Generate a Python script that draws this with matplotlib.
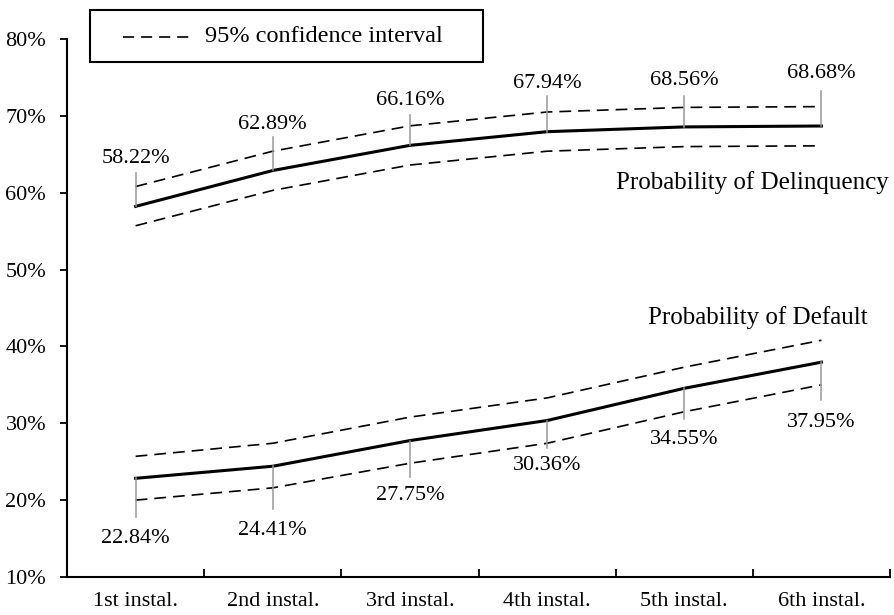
import matplotlib.pyplot as plt
import numpy as np

plt.rcParams['font.family'] = ['Liberation Serif', 'DejaVu Serif']
plt.rcParams['lines.scale_dashes'] = False

categories = ["1st instal.", "2nd instal.", "3rd instal.", "4th instal.", "5th instal.", "6th instal."]

delinq = [58.22, 62.89, 66.16, 67.94, 68.56, 68.68]
delinq_upper = [60.8, 65.4, 68.7, 70.5, 71.1, 71.2]
delinq_lower = [55.7, 60.3, 63.6, 65.4, 66.0, 66.1]

default = [22.84, 24.41, 27.75, 30.36, 34.55, 37.95]
default_upper = [25.7, 27.4, 30.8, 33.3, 37.3, 40.8]
default_lower = [20.0, 21.6, 24.8, 27.4, 31.5, 35.0]

# leader line length and label offset (in % units)
delinq_lab = [[4.3, 6.2], [4.4, 6.0], [4.0, 5.9], [4.6, 6.3], [4.0, 6.0], [4.6, 6.8]]
default_lab = [[5.0, 7.8], [5.6, 8.4], [4.7, 7.2], [3.6, 5.9], [4.0, 6.6], [4.9, 7.8]]

x = np.arange(len(categories))

fig = plt.figure(figsize=(8.95, 6.15), dpi=100)
ax = fig.add_axes([0.0749, 0.0618, 0.9195, 0.8748])

dash = (8.5, 5)
for s in [delinq, default]:
    ax.plot(x, s, color="black", lw=2.2, zorder=3)
for s in [delinq_upper, delinq_lower, default_upper, default_lower]:
    ax.plot(x, s, color="black", lw=1.2, dashes=dash, zorder=2)

for i in range(len(x)):
    v = delinq[i]
    ax.plot([x[i], x[i]], [v, v + delinq_lab[i][0]], color="#999999", lw=1.1, zorder=4)
    ax.text(x[i], v + delinq_lab[i][1], f"{v:.2f}%", ha="center", va="center", fontsize=16)
    v = default[i]
    ax.plot([x[i], x[i]], [v, v - default_lab[i][0]], color="#999999", lw=1.1, zorder=4)
    ax.text(x[i], v - default_lab[i][1], f"{v:.2f}%", ha="center", va="center", fontsize=16)

ax.text(5.49, 61.3, "Probability of Delinquency", ha="right", va="center", fontsize=18)
ax.text(5.34, 43.7, "Probability of Default", ha="right", va="center", fontsize=18)

ax.set_xlim(-0.5, 5.5)
ax.set_ylim(10, 80)
ax.set_yticks(np.arange(10, 81, 10))
ax.set_yticklabels([f"{t}%" for t in range(10, 81, 10)], fontsize=16)
ax.set_xticks(x)
ax.set_xticklabels(categories, fontsize=16)
ax.tick_params(axis="x", which="major", length=0, pad=11)
ax.set_xticks(np.arange(0.5, 5.6, 1), minor=True)
ax.tick_params(axis="x", which="minor", direction="in", length=6, width=1.3)
ax.tick_params(axis="y", direction="out", length=5, width=1.3, pad=10)

for sp in ["top", "right"]:
    ax.spines[sp].set_visible(False)
for sp in ["left", "bottom"]:
    ax.spines[sp].set_linewidth(1.5)

# legend box
fig.patches.append(plt.Rectangle((90 / 895, 1 - 62 / 615), 393 / 895, 52 / 615,
                                 transform=fig.transFigure, fill=False, lw=1.5, ec="black"))
fig.add_artist(plt.Line2D([123 / 895, 193 / 895], [1 - 37 / 615, 1 - 37 / 615],
                          transform=fig.transFigure, color="black", lw=1.2, dashes=(8, 5)))
fig.text(205 / 895, 1 - 36 / 615, "95% confidence interval", ha="left", va="center", fontsize=17.5)

plt.savefig("out.png")
